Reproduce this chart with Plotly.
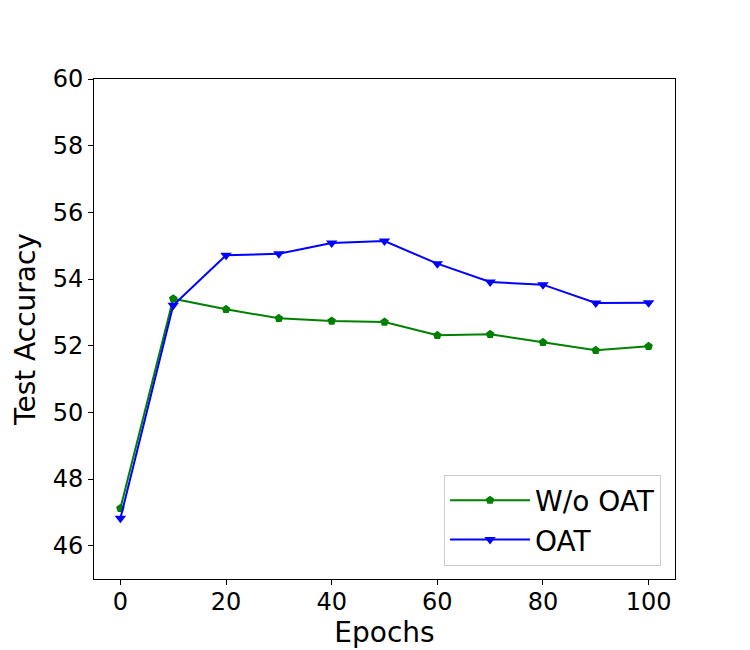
import plotly.graph_objects as go

# data
epochs = [0, 10, 20, 30, 40, 50, 60, 70, 80, 90, 100]
wo_oat = [47.12, 53.41, 53.09, 52.82, 52.74, 52.71, 52.31, 52.34, 52.10, 51.86, 51.98]
oat = [46.82, 53.21, 54.71, 54.76, 55.08, 55.14, 54.46, 53.91, 53.83, 53.28, 53.29]

x_ticks = [0, 20, 40, 60, 80, 100]
y_ticks = [46, 48, 50, 52, 54, 56, 58, 60]

font = "DejaVu Sans"

fig = go.Figure()
fig.add_trace(go.Scatter(
    x=epochs, y=wo_oat, name="W/o OAT", mode="lines+markers",
    line=dict(color="green", width=2),
    marker=dict(symbol="pentagon", size=9, color="green"),
))
fig.add_trace(go.Scatter(
    x=epochs, y=oat, name="OAT", mode="lines+markers",
    line=dict(color="blue", width=2),
    marker=dict(symbol="triangle-down", size=10, color="blue"),
))

axis_style = dict(
    showline=True, linecolor="black", linewidth=1, mirror=True,
    showgrid=False, zeroline=False, automargin=False,
    ticks="outside", ticklen=5, tickcolor="black",
    tickfont=dict(family=font, size=24, color="black"),
)

fig.update_xaxes(range=[-5, 105], tickvals=x_ticks, ticklabelstandoff=-4,
                 title=dict(text="Epochs", font=dict(family=font, size=28, color="black"), standoff=4),
                 **axis_style)
fig.update_yaxes(range=[45, 60], tickvals=y_ticks,
                 title=dict(text="Test Accuracy", font=dict(family=font, size=28, color="black"), standoff=8),
                 **axis_style)

# the page adds an 8px body margin, so margins are trimmed by 8
fig.update_layout(
    template="none",
    width=750, height=650,
    margin=dict(l=86, r=83, t=71, b=79),
    paper_bgcolor="white", plot_bgcolor="white",
    font=dict(family=font, color="black"),
    legend=dict(
        x=0.976, y=0.027, xanchor="right", yanchor="bottom",
        bgcolor="white", bordercolor="#cccccc", borderwidth=1,
        itemwidth=80,
        font=dict(family=font, size=28, color="black"),
    ),
)

fig.write_html("out.html")
